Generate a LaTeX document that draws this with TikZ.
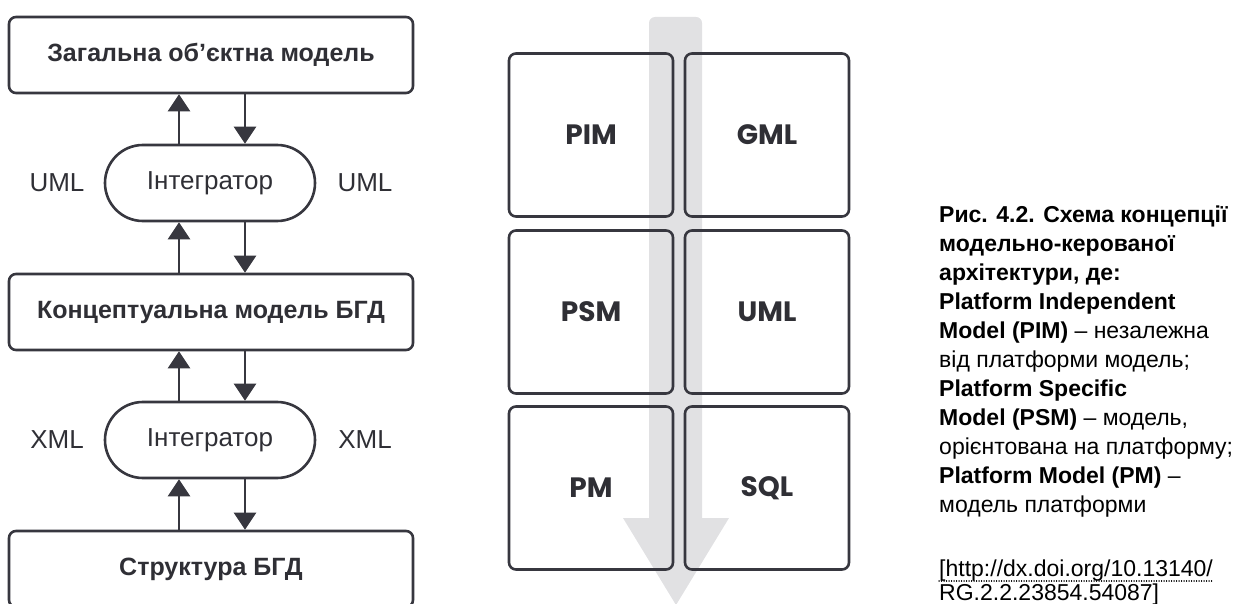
\documentclass[tikz,border=0pt]{standalone}
\usepackage{fontspec}
\setmainfont{Liberation Sans}
\newfontfamily\popfont{Poppins}
\usetikzlibrary{arrows.meta}
\definecolor{ink}{HTML}{37373F}
\definecolor{txt}{HTML}{2F2F35}
\definecolor{lgray}{HTML}{E1E1E3}
\begin{document}
\begin{tikzpicture}[x=1pt,y=-1pt,
  lbox/.style={draw=ink, line width=2.6pt, rounded corners=7pt, minimum width=404pt, minimum height=76pt, inner sep=0pt, text=txt, font=\fontsize{25}{29}\selectfont\bfseries},
  integ/.style={draw=ink, line width=2.6pt, rounded corners=37.9pt, minimum width=210pt, minimum height=76pt, inner sep=0pt, text=txt, font=\fontsize{26}{30}\selectfont},
  side/.style={text=txt, inner sep=0pt, font=\fontsize{26}{30}\selectfont},
  mbox/.style={draw=ink, line width=2.6pt, rounded corners=7pt, minimum width=164pt, minimum height=163pt, inner sep=0pt, text=txt, font=\popfont\fontsize{28}{32}\selectfont\bfseries},
  arr/.style={draw=ink, line width=2.6pt, -{Triangle[width=22pt,length=17pt]}},
  capt/.style={anchor=north west, align=left, inner sep=0pt, text=black, font=\fontsize{23}{29}\selectfont},
  lnk/.style={anchor=base west, inner sep=0pt, text=black, font=\fontsize{23}{27}\selectfont}
]
\useasboundingbox (0,0) rectangle (1247,604);
\clip (0,0) rectangle (1247,604);

% ---------- left column ----------
\node[lbox] (b1) at (211,55) {Загальна об’єктна модель};
\node[integ] (i1) at (210,183) {Інтегратор};
\node[lbox] (b2) at (211,312) {Концептуальна модель БГД};
\node[integ] (i2) at (210,440) {Інтегратор};
\node[lbox] (b3) at (211,569) {Структура БГД};

\node[side] (u1) at (57,183) {UML};
\node[side] (u2) at (365,183) {UML};
\node[side] (x1) at (57,440) {XML};
\node[side] (x2) at (365,440) {XML};

\draw[arr] ([xshift=-31pt]i1.north) -- ([xshift=-31pt]i1.north |- b1.south);
\draw[arr] ([xshift=35pt]i1.north |- b1.south) -- ([xshift=35pt]i1.north);
\draw[arr] ([xshift=-31pt]i1.south |- b2.north) -- ([xshift=-31pt]i1.south);
\draw[arr] ([xshift=35pt]i1.south) -- ([xshift=35pt]i1.south |- b2.north);
\draw[arr] ([xshift=-31pt]i2.north) -- ([xshift=-31pt]i2.north |- b2.south);
\draw[arr] ([xshift=35pt]i2.north |- b2.south) -- ([xshift=35pt]i2.north);
\draw[arr] ([xshift=-31pt]i2.south |- b3.north) -- ([xshift=-31pt]i2.south);
\draw[arr] ([xshift=35pt]i2.south) -- ([xshift=35pt]i2.south |- b3.north);

% ---------- middle column ----------
\fill[lgray, rounded corners=6pt] (649,17) rectangle (702,532);
\fill[lgray] (623,518) -- (729,518) -- (676,605) -- cycle;

\node[mbox] (pim) at (591,135) {PIM};
\node[mbox] (gml) at (767,135) {GML};
\node[mbox] (psm) at (591,312) {PSM};
\node[mbox] (uml) at (767,312) {UML};
\node[mbox] (pm)  at (591,488) {PM};
\node[mbox] (sql) at (767,488) {SQL};

% ---------- caption ----------
\node[capt] (cap) at (939,206) {%
\textbf{Рис. 4.2. Схема концепції}\\
\textbf{модельно-керованої}\\
\textbf{архітектури, де:}\\
\textbf{Platform Independent}\\
\textbf{Model (PIM)} – незалежна\\
від платформи модель;\\
\textbf{Platform Specific}\\
\textbf{Model (PSM)} – модель,\\
орієнтована на платформу;\\
\textbf{Platform Model (PM)} –\\
модель платформи};
\node[lnk] (l1) at (939,576) {[http://dx.doi.org/10.13140/};
\node[lnk] (l2) at ([yshift=-24pt]l1.base west) {RG.2.2.23854.54087]};
\draw[black, line width=1.3pt, dash pattern=on 0.1pt off 2.4pt, line cap=round] ([yshift=-5pt]l1.base west) -- ([yshift=-5pt]l1.base east);
\end{tikzpicture}
\end{document}
